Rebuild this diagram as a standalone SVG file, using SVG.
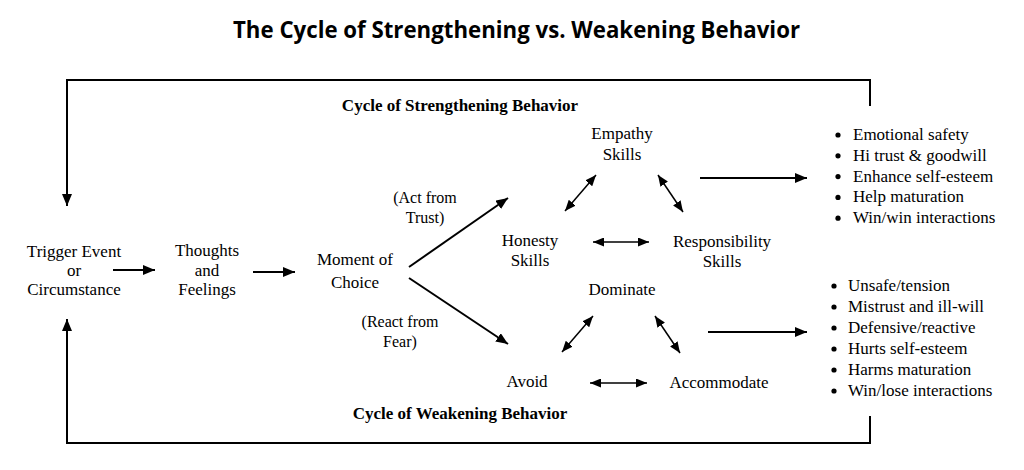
<svg xmlns="http://www.w3.org/2000/svg" width="1024" height="470" viewBox="0 0 1024 470">
<style>
.t{font-family:"Liberation Serif","Times New Roman",serif;font-size:17px;fill:#000;text-anchor:middle}
.s{font-family:"Liberation Serif","Times New Roman",serif;font-size:16px;fill:#000;text-anchor:middle}
.b{font-family:"Liberation Serif","Times New Roman",serif;font-size:17px;font-weight:bold;fill:#000;text-anchor:middle}
.l{font-family:"Liberation Serif","Times New Roman",serif;font-size:17px;fill:#000}
.ln{stroke:#000;stroke-width:2;fill:none}
.dl{stroke:#000;stroke-width:1.5;fill:none}
.bu{fill:#000}
</style>
<defs>
<marker id="ah" viewBox="0 0 12 10" refX="12" refY="5" markerWidth="12" markerHeight="10" markerUnits="userSpaceOnUse" orient="auto-start-reverse"><path d="M0,0 L12,5 L0,10 z" fill="#000"/></marker>
<marker id="ah2" viewBox="0 0 11 9" refX="11" refY="4.5" markerWidth="11" markerHeight="9" markerUnits="userSpaceOnUse" orient="auto-start-reverse"><path d="M0,0 L11,4.5 L0,9 z" fill="#000"/></marker>
</defs>
<rect width="1024" height="470" fill="#fff"/>
<text x="516.5" y="38" font-family="'Open Sans','Liberation Sans',sans-serif" font-weight="700" font-size="24" text-anchor="middle" textLength="567" lengthAdjust="spacingAndGlyphs">The Cycle of Strengthening vs. Weakening Behavior</text>

<g id="connectors">
<path class="ln" d="M870,106 V80 H67 V206" marker-end="url(#ah)"/>
<path class="ln" d="M870,416 V443 H67 V319" marker-end="url(#ah)"/>
<line class="ln" x1="113" y1="270" x2="155" y2="270" marker-end="url(#ah)"/>
<line class="ln" x1="253" y1="272" x2="295" y2="272" marker-end="url(#ah)"/>
<line class="ln" x1="409" y1="267" x2="508" y2="198" marker-end="url(#ah)"/>
<line class="ln" x1="409" y1="278" x2="508" y2="344" marker-end="url(#ah)"/>
<line class="dl" x1="565" y1="211" x2="596" y2="175" marker-start="url(#ah2)" marker-end="url(#ah2)"/>
<line class="dl" x1="658" y1="175" x2="683" y2="212" marker-start="url(#ah2)" marker-end="url(#ah2)"/>
<line class="dl" x1="593" y1="242" x2="649" y2="242" marker-start="url(#ah2)" marker-end="url(#ah2)"/>
<line class="dl" x1="562" y1="352" x2="593" y2="316" marker-start="url(#ah2)" marker-end="url(#ah2)"/>
<line class="dl" x1="655" y1="316" x2="680" y2="353" marker-start="url(#ah2)" marker-end="url(#ah2)"/>
<line class="dl" x1="590" y1="383" x2="647" y2="383" marker-start="url(#ah2)" marker-end="url(#ah2)"/>
<line class="ln" x1="700" y1="178" x2="807" y2="178" marker-end="url(#ah)"/>
<line class="ln" x1="708" y1="332" x2="807" y2="332" marker-end="url(#ah)"/>
</g>

<g id="cycle-strengthening"><text class="b" x="460" y="111">Cycle of Strengthening Behavior</text></g>
<g id="cycle-weakening"><text class="b" x="460" y="419">Cycle of Weakening Behavior</text></g>

<g id="trigger"><text class="t" x="74" y="257">Trigger Event</text><text class="t" x="74" y="276">or</text><text class="t" x="74" y="295">Circumstance</text></g>
<g id="thoughts"><text class="t" x="207" y="256">Thoughts</text><text class="t" x="207" y="276">and</text><text class="t" x="207" y="295">Feelings</text></g>
<g id="moment"><text class="t" x="355" y="265">Moment of</text><text class="t" x="355" y="288">Choice</text></g>
<g id="act-trust"><text class="s" x="425" y="203">(Act from</text><text class="s" x="425" y="223">Trust)</text></g>
<g id="react-fear"><text class="s" x="400" y="327">(React from</text><text class="s" x="400" y="347">Fear)</text></g>

<g id="empathy"><text class="t" x="622" y="139">Empathy</text><text class="t" x="622" y="160">Skills</text></g>
<g id="honesty"><text class="t" x="530" y="246">Honesty</text><text class="t" x="530" y="266">Skills</text></g>
<g id="responsibility"><text class="t" x="722" y="247">Responsibility</text><text class="t" x="722" y="267">Skills</text></g>
<g id="dominate"><text class="t" x="622" y="295">Dominate</text></g>
<g id="avoid"><text class="t" x="527" y="387">Avoid</text></g>
<g id="accommodate"><text class="t" x="719" y="388">Accommodate</text></g>

<g id="outcomes-strengthening">
<circle class="bu" cx="838" cy="135" r="2.6"/><text class="l" x="853" y="140">Emotional safety</text>
<circle class="bu" cx="838" cy="155.8" r="2.6"/><text class="l" x="853" y="160.8">Hi trust &amp; goodwill</text>
<circle class="bu" cx="838" cy="176.6" r="2.6"/><text class="l" x="853" y="181.6">Enhance self-esteem</text>
<circle class="bu" cx="838" cy="197.4" r="2.6"/><text class="l" x="853" y="202.4">Help maturation</text>
<circle class="bu" cx="838" cy="218.2" r="2.6"/><text class="l" x="853" y="223.2">Win/win interactions</text>
</g>
<g id="outcomes-weakening">
<circle class="bu" cx="834" cy="286" r="2.6"/><text class="l" x="848" y="291">Unsafe/tension</text>
<circle class="bu" cx="834" cy="307" r="2.6"/><text class="l" x="848" y="312">Mistrust and ill-will</text>
<circle class="bu" cx="834" cy="328" r="2.6"/><text class="l" x="848" y="333">Defensive/reactive</text>
<circle class="bu" cx="834" cy="349" r="2.6"/><text class="l" x="848" y="354">Hurts self-esteem</text>
<circle class="bu" cx="834" cy="370" r="2.6"/><text class="l" x="848" y="375">Harms maturation</text>
<circle class="bu" cx="834" cy="391" r="2.6"/><text class="l" x="848" y="396">Win/lose interactions</text>
</g>
</svg>
